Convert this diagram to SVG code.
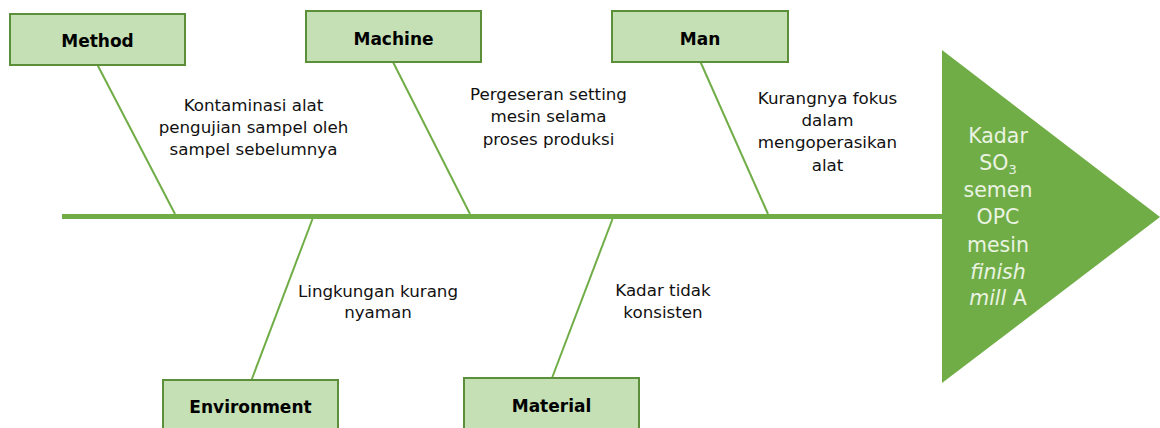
<svg xmlns="http://www.w3.org/2000/svg" width="1160" height="428" viewBox="0 0 1160 428">
<style>
.box{fill:#C5E0B4;stroke:#5B8F3A;stroke-width:2}
.lbl{font-family:"DejaVu Sans",sans-serif;font-weight:bold;font-size:17px;fill:#000;text-anchor:middle}
.cause{font-family:"DejaVu Sans",sans-serif;font-size:16.7px;fill:#111;text-anchor:middle}
.bone{stroke:#70AD47;stroke-width:2;fill:none}
.spine{stroke:#70AD47;stroke-width:5;fill:none}
.head{font-family:"DejaVu Sans",sans-serif;font-size:20.5px;fill:#EAF3E2;text-anchor:middle}
</style>
<rect width="1160" height="428" fill="#fff"/>
<g id="connectors">
<line class="spine" x1="62" y1="216.5" x2="944" y2="216.5"/>
<line class="bone" x1="97.5" y1="65" x2="175" y2="214"/>
<line class="bone" x1="393" y1="62" x2="470" y2="214"/>
<line class="bone" x1="700.5" y1="62" x2="768" y2="214"/>
<line class="bone" x1="312.5" y1="219" x2="251.5" y2="380"/>
<line class="bone" x1="612.5" y1="219" x2="552" y2="378"/>
</g>
<g id="head">
<polygon points="942,50 1160,217 942,383" fill="#70AD47"/>
<text class="head"><tspan x="998" y="143">Kadar</tspan><tspan x="998" y="170">SO<tspan font-size="13" dy="4">3</tspan></tspan><tspan x="998" y="197">semen</tspan><tspan x="998" y="224">OPC</tspan><tspan x="998" y="252">mesin</tspan><tspan x="998" y="279" font-style="italic">finish</tspan><tspan x="998" y="305"><tspan font-style="italic">mill</tspan> A</tspan></text>
</g>
<g id="method">
<rect class="box" x="10" y="14" width="175" height="51"/>
<text class="lbl" x="97.5" y="47">Method</text>
</g>
<g id="machine">
<rect class="box" x="306" y="11" width="175" height="51"/>
<text class="lbl" x="393.5" y="45">Machine</text>
</g>
<g id="man">
<rect class="box" x="612" y="11" width="176" height="51"/>
<text class="lbl" x="700" y="45">Man</text>
</g>
<g id="environment">
<rect class="box" x="163" y="380" width="175" height="60"/>
<text class="lbl" x="250.5" y="413">Environment</text>
</g>
<g id="material">
<rect class="box" x="464" y="378" width="175" height="60"/>
<text class="lbl" x="551.5" y="412">Material</text>
</g>
<g id="cause-method">
<text class="cause"><tspan x="253.5" y="111">Kontaminasi alat</tspan><tspan x="253.5" y="133">pengujian sampel oleh</tspan><tspan x="253.5" y="155">sampel sebelumnya</tspan></text>
</g>
<g id="cause-machine">
<text class="cause"><tspan x="548.5" y="100">Pergeseran setting</tspan><tspan x="548.5" y="122">mesin selama</tspan><tspan x="548.5" y="145">proses produksi</tspan></text>
</g>
<g id="cause-man">
<text class="cause"><tspan x="827.5" y="104">Kurangnya fokus</tspan><tspan x="827.5" y="126">dalam</tspan><tspan x="827.5" y="148">mengoperasikan</tspan><tspan x="827.5" y="171">alat</tspan></text>
</g>
<g id="cause-environment">
<text class="cause"><tspan x="378" y="297">Lingkungan kurang</tspan><tspan x="378" y="318">nyaman</tspan></text>
</g>
<g id="cause-material">
<text class="cause"><tspan x="663" y="296">Kadar tidak</tspan><tspan x="663" y="318">konsisten</tspan></text>
</g>
</svg>
